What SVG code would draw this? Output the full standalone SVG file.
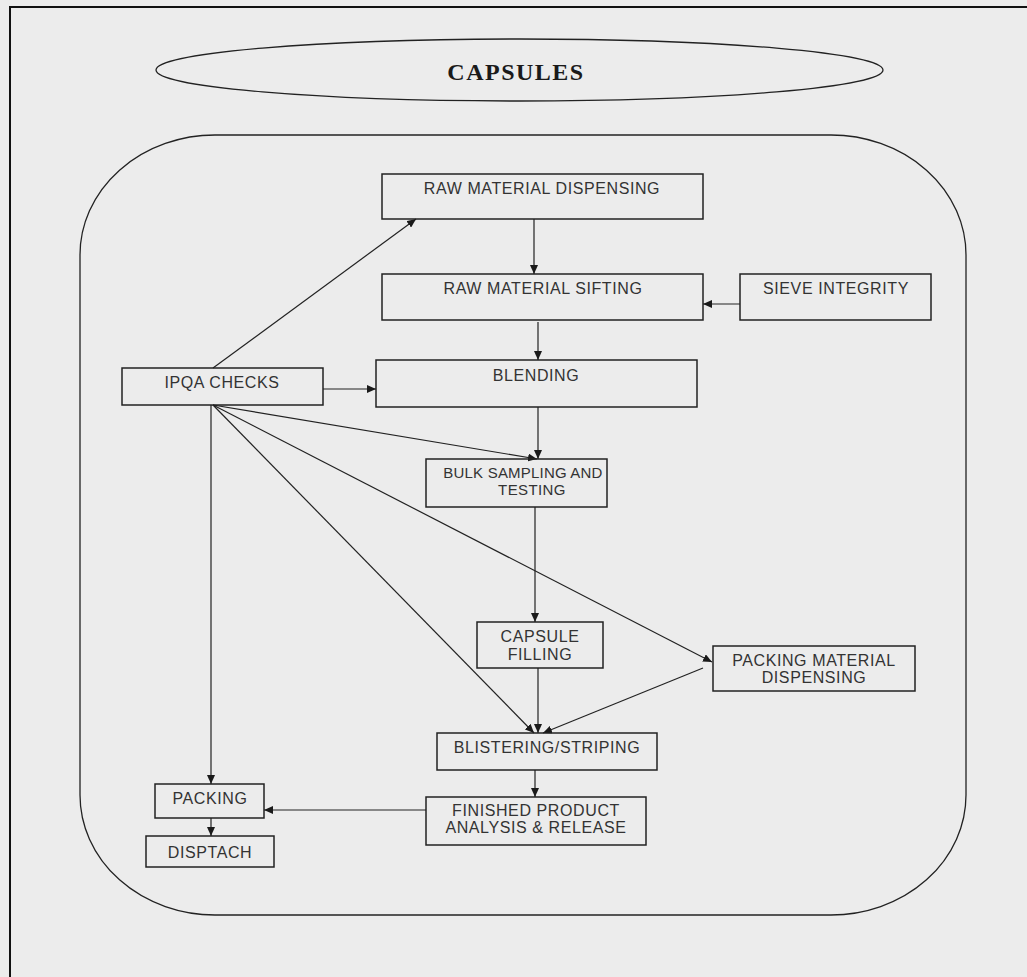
<svg xmlns="http://www.w3.org/2000/svg" width="1027" height="977" viewBox="0 0 1027 977">
<defs>
<style>
.bg{fill:#ececec}
.frame{fill:none;stroke:#111;stroke-width:2}
.outline{fill:none;stroke:#222;stroke-width:1.3}
.box{fill:none;stroke:#222;stroke-width:1.5}
.t{font-family:"Liberation Sans",Arial,sans-serif;font-size:16px;fill:#333;text-anchor:middle;letter-spacing:0.6px}
.title{font-family:"Liberation Serif","Times New Roman",serif;font-size:24px;font-weight:bold;fill:#1a1a1a;text-anchor:middle;letter-spacing:1.5px}
.c{fill:none;stroke:#222;stroke-width:1.2;marker-end:url(#ah)}
</style>
<marker id="ah" markerUnits="userSpaceOnUse" markerWidth="10" markerHeight="8" refX="9" refY="4" orient="auto">
<path d="M0,0 L9,4 L0,8 Z" fill="#1a1a1a"/>
</marker>
</defs>
<rect class="bg" x="0" y="0" width="1027" height="977"/>
<rect class="frame" x="10" y="7" width="1040" height="1000"/>
<g id="title">
<ellipse class="outline" cx="519.5" cy="70" rx="363.5" ry="31"/>
<text class="title" x="516" y="80">CAPSULES</text>
</g>
<g id="container">
<rect class="outline" x="80" y="135" width="886" height="780" rx="135" ry="120"/>
</g>
<g id="connectors">
<path class="c" d="M534,219 V274"/>
<path class="c" d="M740,304 H703"/>
<path class="c" d="M538,322 V360"/>
<path class="c" d="M213,368 L416,219"/>
<path class="c" d="M323,389 H376"/>
<path class="c" d="M538,407 V459"/>
<path class="c" d="M213,405 L537,459"/>
<path class="c" d="M535,507 V622"/>
<path class="c" d="M213,405 L712,662"/>
<path class="c" d="M213,405 L534,733"/>
<path class="c" d="M538,668 V733"/>
<path class="c" d="M703,668 L543,733"/>
<path class="c" d="M211,405 V784"/>
<path class="c" d="M535,770 V797"/>
<path class="c" d="M426,810 H264"/>
<path class="c" d="M211,818 V836"/>
</g>
<g id="raw-material-dispensing">
<rect class="box" x="382" y="174" width="321" height="45"/>
<text class="t" x="542" y="194">RAW MATERIAL DISPENSING</text>
</g>
<g id="raw-material-sifting">
<rect class="box" x="382" y="274" width="321" height="46"/>
<text class="t" x="543" y="294">RAW MATERIAL SIFTING</text>
</g>
<g id="sieve-integrity">
<rect class="box" x="740" y="274" width="191" height="46"/>
<text class="t" x="836" y="294">SIEVE INTEGRITY</text>
</g>
<g id="blending">
<rect class="box" x="376" y="360" width="321" height="47"/>
<text class="t" x="536" y="381">BLENDING</text>
</g>
<g id="ipqa-checks">
<rect class="box" x="122" y="368" width="201" height="37"/>
<text class="t" x="222" y="388">IPQA CHECKS</text>
</g>
<g id="bulk-sampling">
<rect class="box" x="426" y="459" width="181" height="48"/>
<text class="t" x="523" y="478" style="font-size:15px;letter-spacing:0.2px">BULK SAMPLING AND</text>
<text class="t" x="532" y="495" style="font-size:15px;letter-spacing:0.4px">TESTING</text>
</g>
<g id="capsule-filling">
<rect class="box" x="477" y="622" width="126" height="46"/>
<text class="t" x="540" y="642">CAPSULE</text>
<text class="t" x="540" y="660">FILLING</text>
</g>
<g id="packing-material-dispensing">
<rect class="box" x="713" y="646" width="202" height="45"/>
<text class="t" x="814" y="666">PACKING MATERIAL</text>
<text class="t" x="814" y="683">DISPENSING</text>
</g>
<g id="blistering-striping">
<rect class="box" x="437" y="733" width="220" height="37"/>
<text class="t" x="547" y="753">BLISTERING/STRIPING</text>
</g>
<g id="finished-product">
<rect class="box" x="426" y="797" width="220" height="48"/>
<text class="t" x="536" y="816">FINISHED PRODUCT</text>
<text class="t" x="536" y="833">ANALYSIS &amp; RELEASE</text>
</g>
<g id="packing">
<rect class="box" x="155" y="784" width="109" height="34"/>
<text class="t" x="210" y="804">PACKING</text>
</g>
<g id="disptach">
<rect class="box" x="146" y="836" width="128" height="31"/>
<text class="t" x="210" y="858">DISPTACH</text>
</g>
</svg>
